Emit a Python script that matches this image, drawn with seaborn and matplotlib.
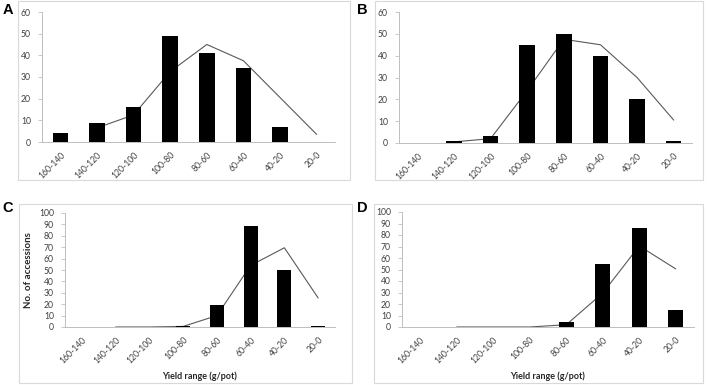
import numpy as np
import pandas as pd
import matplotlib
matplotlib.use("Agg")
import matplotlib.pyplot as plt
from matplotlib.patches import Rectangle
from matplotlib.ticker import MultipleLocator, FixedLocator
import seaborn as sns

sns.set_style("white")
plt.rcParams['font.family'] = ['Lato', 'DejaVu Sans']

categories = ["160-140", "140-120", "120-100", "100-80", "80-60", "60-40", "40-20", "20-0"]

bars_a = [4, 9, 16, 49, 41, 34, 7, 0]
line_a = [6.5, 12.5, 32.5, 45, 37.5, 20.5, 3.5]
bars_b = [0, 1, 3, 45, 50, 40, 20, 1]
line_b = [0.5, 2, 24, 47.5, 45, 30, 10.5]
bars_c = [0, 0, 0, 1, 19, 89, 50, 1]
line_c = [0, 0, 0.5, 10, 54, 69.5, 25.5]
bars_d = [0, 0, 0, 0, 4, 55, 86, 15]
line_d = [0, 0, 0, 2, 29.5, 70.5, 50.5]

W, H = 708, 385
fig = plt.figure(figsize=(W / 100, H / 100), dpi=100)

def fx(px):
    return px / W

def fy(py):
    return 1 - py / H

panels = [
    ("A", bars_a, line_a, 60, (42, 335, 142, 12), (18, 350, 1, 180), False),
    ("B", bars_b, line_b, 60, (399, 692, 143, 12), (375, 703, 1, 180), False),
    ("C", bars_c, line_c, 100, (65, 335, 327, 213), (19, 352, 204, 383), True),
    ("D", bars_d, line_d, 100, (402, 694, 327, 212), (374, 703, 204, 383), True),
]

axis_gray = "#bfbfbf"
text_gray = "#404040"

for letter, bars, line, ymax, (x0, x1, yb, yt), (bx0, bx1, by0, by1), xlab in panels:
    # chart border
    fig.patches.append(Rectangle((fx(bx0), fy(by1)), fx(bx1) - fx(bx0), fy(by0) - fy(by1),
                                 transform=fig.transFigure, fill=False,
                                 edgecolor="#d9d9d9", linewidth=0.8, zorder=0))
    ax = fig.add_axes([fx(x0), fy(yb), fx(x1) - fx(x0), fy(yt) - fy(yb)])
    ax.set_facecolor("none")
    df = pd.DataFrame({"cat": categories, "val": bars})
    sns.barplot(data=df, x="cat", y="val", color="black", width=0.42,
                linewidth=0, ax=ax, zorder=3, saturation=1)
    ld = pd.DataFrame({"pos": np.arange(1, len(categories)), "val": line})
    sns.lineplot(data=ld, x="pos", y="val", color="#595959", linewidth=0.8, ax=ax, zorder=2)
    ax.set_xlim(-0.5, len(categories) - 0.5)
    ax.set_ylim(0, ymax)
    ax.yaxis.set_major_locator(MultipleLocator(10))
    ax.set_xticks(np.arange(len(categories)))
    ax.set_xticklabels(categories, rotation=45, ha="right", rotation_mode="anchor",
                       fontsize=6.2, color=text_gray)
    ax.xaxis.set_minor_locator(FixedLocator(np.arange(-0.5, len(categories), 1.0)))
    ax.tick_params(axis="x", which="major", length=0, pad=6)
    ax.tick_params(axis="x", which="minor", length=3, width=0.6, color=axis_gray, direction="out")
    ax.tick_params(axis="y", length=3, width=0.6, color=axis_gray, labelsize=6.2,
                   labelcolor=text_gray, pad=5, left=True)
    for s in ["top", "right"]:
        ax.spines[s].set_visible(False)
    for s in ["left", "bottom"]:
        ax.spines[s].set_color(axis_gray)
        ax.spines[s].set_linewidth(0.7)
    ax.set_xlabel("")
    ax.set_ylabel("")
    ax.grid(False)
    if xlab:
        fig.text(fx((x0 + x1) / 2), fy(376), "Yield range (g/pot)", ha="center", va="center",
                 fontsize=6.5, fontweight="bold", color="#262626")
    lx = 8 if letter in "AC" else 362
    ly = 10 if letter in "AB" else 208
    fig.text(fx(lx), fy(ly), letter, ha="center", va="center", fontsize=10.5,
             fontweight="bold", color="black", family=["Liberation Sans", "DejaVu Sans"])

fig.text(fx(29), fy(270), "No. of accessions", rotation=90, ha="center", va="center",
         fontsize=7, fontweight="bold", color="#262626")

fig.savefig("out.png", dpi=100)
